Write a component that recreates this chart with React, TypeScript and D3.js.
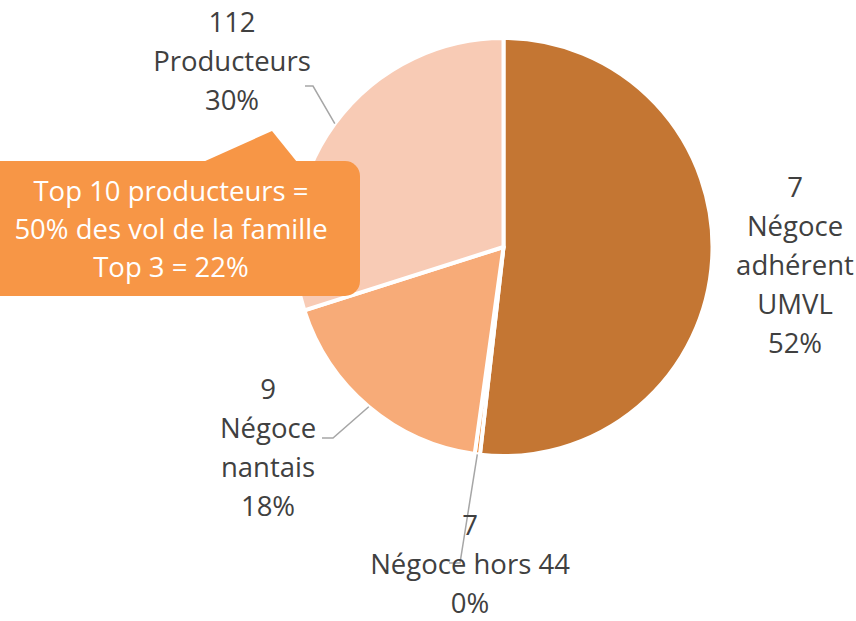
import * as d3 from 'd3'

// slices, clockwise from 12 o'clock
const categories = ['Négoce adhérent UMVL', 'Négoce hors 44', 'Négoce nantais', 'Producteurs']
const shares = [51.8, 0.4, 17.9, 29.9]
const counts = [7, 7, 9, 112]
const nameLines = [['Négoce', 'adhérent', 'UMVL'], ['Négoce hors 44'], ['Négoce', 'nantais'], ['Producteurs']]
const colors = ['#C47633', '#EE8D3C', '#F7AB78', '#F8CBB5']
const calloutLines = ['Top 10 producteurs =', '50% des vol de la famille', 'Top 3 = 22%']

const W = 856
const H = 621
const CX = 503.5
const CY = 247
const R = 209
const FONT = '"Open Sans", sans-serif'
const LINE_H = 39

// label placement (centre x, first baseline) and leader elbow, by slice
const LABEL_POS: { x: number; y: number; elbow?: [number, number, number] }[] = [
  { x: 795, y: 197 },
  { x: 470, y: 535, elbow: [449, 460, 563] },
  { x: 268, y: 399, elbow: [322, 333, 438] },
  { x: 232, y: 32, elbow: [305, 313, 86] },
]

export default function App() {
  const data = categories.map((c, i) => ({ name: c, share: shares[i], count: counts[i], i }))
  const pie = d3.pie<any>().sort(null).value(d => d.share)
  const arcs = pie(data)
  const arc = d3.arc<any>().innerRadius(0).outerRadius(R)

  const edgePoint = (a: any): [number, number] => {
    const m = (a.startAngle + a.endAngle) / 2
    return [R * Math.sin(m), -R * Math.cos(m)]
  }

  return (
    <div style={{ position: 'fixed', left: 0, top: 0, width: W, height: H, background: '#fff' }}>
      <svg width={W} height={H} style={{ display: 'block' }} fontFamily={FONT}>
        <g transform={`translate(${CX},${CY})`}>
          {arcs.map((a, i) => (
            <path key={i} d={arc(a) || ''} fill={colors[i]} stroke="#fff" strokeWidth={4} strokeLinejoin="round" />
          ))}
        </g>

        {/* leader lines */}
        {arcs.map((a, i) => {
          const e = LABEL_POS[i].elbow
          if (!e) return null
          const [px, py] = edgePoint(a)
          const line = d3.line()([[e[0], e[2]], [e[1], e[2]], [CX + px, CY + py]])
          return <path key={i} d={line || ''} fill="none" stroke="#A6A6A6" strokeWidth={1.5} />
        })}

        {/* data labels */}
        {data.map((d, i) => {
          const pos = LABEL_POS[i]
          const lines = [String(d.count), ...nameLines[i], `${Math.round(d.share)}%`]
          return (
            <text key={i} textAnchor="middle" fontSize={27.5} fill="#404040">
              {lines.map((t, k) => (
                <tspan key={k} x={pos.x} y={pos.y + k * LINE_H}>{t}</tspan>
              ))}
            </text>
          )
        })}

        {/* callout */}
        <g>
          <rect x={-20} y={161} width={380} height={135} rx={15} fill="#F79646" />
          <path d={d3.line()([[203, 162], [272, 131], [297, 162]]) + 'Z'} fill="#F79646" />
          <text textAnchor="middle" fontSize={27.5} fill="#fff">
            {calloutLines.map((t, k) => (
              <tspan key={k} x={171} y={201 + k * 38}>{t}</tspan>
            ))}
          </text>
        </g>
      </svg>
    </div>
  )
}
